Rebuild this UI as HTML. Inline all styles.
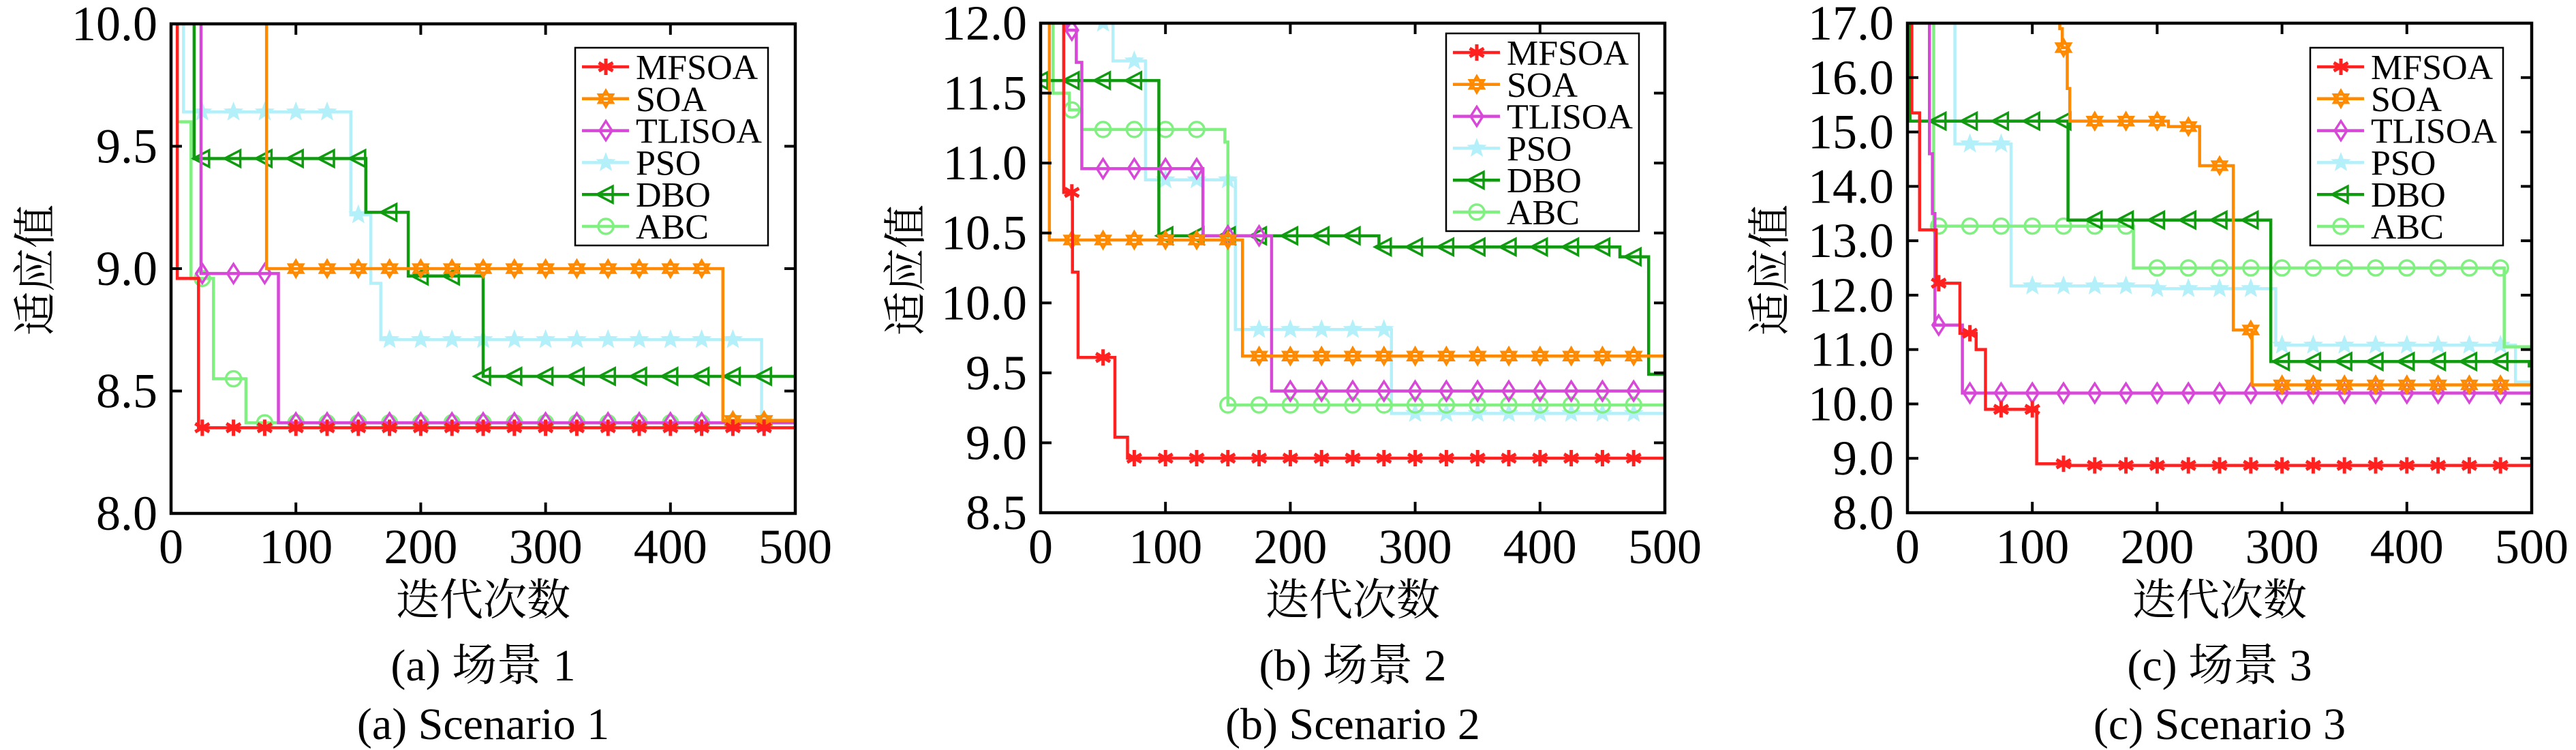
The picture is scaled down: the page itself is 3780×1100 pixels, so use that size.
<!DOCTYPE html>
<html><head><meta charset="utf-8"><style>
html,body{margin:0;padding:0;background:#fff;}
svg{display:block;}
text{font-family:"Liberation Serif","Noto Serif CJK SC",serif;fill:#000;}
.cjk{font-family:"Liberation Serif","Noto Serif CJK SC","Noto Sans CJK SC",serif;}
</style></head><body>
<svg id="s" width="3780" height="1100" viewBox="0 0 3780 1100" xmlns="http://www.w3.org/2000/svg">
<rect width="3780" height="1100" fill="#fff"/>
<g id="g"></g>
<g font-family="Liberation Serif, Noto Serif CJK SC, serif">
<text class="cjk" x="709" y="902" font-size="64" text-anchor="middle">迭代次数</text>
<text class="cjk" x="709" y="998" font-size="66" text-anchor="middle">(a) 场景 1</text>
<text x="709" y="1084" font-size="66" text-anchor="middle">(a) Scenario 1</text>
<text class="cjk" transform="translate(74,396) rotate(-90)" font-size="64" text-anchor="middle">适应值</text>

<text class="cjk" x="1985" y="902" font-size="64" text-anchor="middle">迭代次数</text>
<text class="cjk" x="1985" y="998" font-size="66" text-anchor="middle">(b) 场景 2</text>
<text x="1985" y="1084" font-size="66" text-anchor="middle">(b) Scenario 2</text>
<text class="cjk" transform="translate(1351,396) rotate(-90)" font-size="64" text-anchor="middle">适应值</text>

<text class="cjk" x="3257" y="902" font-size="64" text-anchor="middle">迭代次数</text>
<text class="cjk" x="3257" y="998" font-size="66" text-anchor="middle">(c) 场景 3</text>
<text x="3257" y="1084" font-size="66" text-anchor="middle">(c) Scenario 3</text>
<text class="cjk" transform="translate(2619,396) rotate(-90)" font-size="64" text-anchor="middle">适应值</text>
</g>
<g id="ticks" font-size="72" font-family="Liberation Serif, serif"></g>
<g id="leg" font-size="52" font-family="Liberation Serif, serif"></g>
</svg>
<script>
const NS="http://www.w3.org/2000/svg";
const g=document.getElementById('g'),tg=document.getElementById('ticks'),lg=document.getElementById('leg');
function el(t,a,p){const e=document.createElementNS(NS,t);for(const k in a)e.setAttribute(k,a[k]);(p||g).appendChild(e);return e;}
const COL={MF:'#ff2020',SOA:'#ff8a00',TL:'#d848d8',PSO:'#b4f0fa',DBO:'#109a10',ABC:'#80f080'};
const NAMES={MF:'MFSOA',SOA:'SOA',TL:'TLISOA',PSO:'PSO',DBO:'DBO',ABC:'ABC'};
function marker(type,cx,cy,parent){
  const c=COL[type],r=12,sw=3.5;
  if(type==='MF'){for(let i=0;i<3;i++){const a=i*Math.PI/3+Math.PI/2;el('line',{x1:cx-r*Math.cos(a),y1:cy-r*Math.sin(a),x2:cx+r*Math.cos(a),y2:cy+r*Math.sin(a),stroke:c,'stroke-width':5},parent);}}
  else if(type==='SOA'){let p1='',p2='';for(let i=0;i<3;i++){const a=-Math.PI/2+i*2*Math.PI/3,b=Math.PI/2+i*2*Math.PI/3;p1+=(cx+r*Math.cos(a))+','+(cy+r*Math.sin(a))+' ';p2+=(cx+r*Math.cos(b))+','+(cy+r*Math.sin(b))+' ';}
    el('polygon',{points:p1,fill:'none',stroke:c,'stroke-width':sw},parent);el('polygon',{points:p2,fill:'none',stroke:c,'stroke-width':sw},parent);}
  else if(type==='TL'){el('polygon',{points:`${cx},${cy-14} ${cx+9},${cy} ${cx},${cy+14} ${cx-9},${cy}`,fill:'none',stroke:c,'stroke-width':sw},parent);}
  else if(type==='PSO'){let p='';for(let i=0;i<10;i++){const a=-Math.PI/2+i*Math.PI/5,rr=i%2?6:14;p+=(cx+rr*Math.cos(a))+','+(cy+rr*Math.sin(a))+' ';}el('polygon',{points:p,fill:c,stroke:c,'stroke-width':1},parent);}
  else if(type==='DBO'){el('polygon',{points:`${cx-13},${cy} ${cx+10},${cy-12} ${cx+10},${cy+12}`,fill:'none',stroke:c,'stroke-width':sw},parent);}
  else if(type==='ABC'){el('circle',{cx:cx,cy:cy,r:11,fill:'none',stroke:c,'stroke-width':sw},parent);}
}
const panels=[
 {L:251,R:1167,T:35,B:753,y0:8,y1:10,yt:[8,8.5,9,9.5,10],leg:[844,70,1127,360],
  s:{PSO:[[0,20],[10,9.64],[144,9.22],[160,8.94],[168,8.71],[473,8.38]],
     ABC:[[0,20],[5,9.6],[16,8.96],[34,8.55],[60,8.37]],
     DBO:[[0,20],[18.5,9.45],[156,9.23],[190,8.97],[250,8.56]],
     TL:[[0,20],[24,8.98],[86,8.37]],
     SOA:[[0,20],[76.5,9.0],[442,8.38]],
     MF:[[0,20],[5,8.96],[22,8.35]]}},
 {L:1527,R:2443,T:34,B:752,y0:8.5,y1:12,yt:[8.5,9,9.5,10,10.5,11,11.5,12],leg:[2122,49,2405,339],
  s:{PSO:[[0,20],[45,12.0],[58,11.73],[84,10.88],[156,9.81],[281,9.21]],
     ABC:[[0,20],[10,11.5],[23,11.38],[33,11.24],[147.6,11.15],[150,9.27]],
     DBO:[[0,11.59],[94.7,10.48],[271,10.40],[464,10.33],[487,9.49]],
     TL:[[0,20],[21,11.95],[28.6,11.72],[33,10.96],[130,10.48],[185,9.37]],
     SOA:[[0,20],[7,10.45],[161.7,9.62]],
     MF:[[0,20],[18.5,10.79],[25.5,10.22],[30,9.61],[59.5,9.04],[69.6,8.89]]}},
 {L:2799,R:3715,T:34,B:752,y0:8,y1:17,yt:[8,9,10,11,12,13,14,15,16,17],leg:[3390,70,3673,360],
  s:{PSO:[[0,20],[38,14.78],[83,12.17],[200,12.12],[295,11.08],[487,10.4]],
     ABC:[[0,20],[21,13.27],[181,12.5],[478,11.05]],
     DBO:[[0,20],[2,15.2],[128.6,13.38],[291,10.78],[498,10.7]],
     TL:[[0,20],[17.6,14.6],[20,13.5],[22,11.45],[44,10.2]],
     SOA:[[0,20],[122,16.9],[124,16.55],[128,15.8],[130,15.2],[209,15.1],[234,14.38],[261,11.36],[276,10.35]],
     MF:[[0,20],[3.5,15.35],[9.7,13.2],[23,12.22],[42,11.3],[55,11.0],[62.5,9.9],[103.5,8.9],[130,8.87]]}}
];
panels.forEach((P,pi)=>{
  const X=x=>P.L+(P.R-P.L)*x/500, Y=y=>P.B-(P.B-P.T)*(y-P.y0)/(P.y1-P.y0);
  const id='c'+pi;
  const cp=el('clipPath',{id:id});el('rect',{x:P.L,y:P.T,width:P.R-P.L,height:P.B-P.T},cp);
  const sg=el('g',{'clip-path':`url(#${id})`});
  for(const k of Object.keys(P.s)){
    const d=P.s[k];let p=`M${X(d[0][0])},${Y(d[0][1])}`;
    for(let i=1;i<d.length;i++)p+=` H${X(d[i][0])} V${Y(d[i][1])}`;
    p+=` H${X(500)}`;
    el('path',{d:p,fill:'none',stroke:COL[k],'stroke-width':4.5},sg);
    for(let xm=0;xm<500;xm+=25){let v=d[0][1];for(const q of d)if(q[0]<=xm)v=q[1];
      if(v<=P.y1+0.01&&v>=P.y0)marker(k,X(xm),Y(v),sg);}
  }
  el('rect',{x:P.L,y:P.T,width:P.R-P.L,height:P.B-P.T,fill:'none',stroke:'#000','stroke-width':4.5});
  for(let xv=0;xv<=500;xv+=100){const x=X(xv);
    el('line',{x1:x,y1:P.B,x2:x,y2:P.B-16,stroke:'#000','stroke-width':4});
    el('line',{x1:x,y1:P.T,x2:x,y2:P.T+16,stroke:'#000','stroke-width':4});
    const t=el('text',{x:x,y:826,'text-anchor':'middle'},tg);t.textContent=xv;}
  P.yt.forEach(v=>{const y=Y(v);
    el('line',{x1:P.L,y1:y,x2:P.L+16,y2:y,stroke:'#000','stroke-width':4});
    el('line',{x1:P.R,y1:y,x2:P.R-16,y2:y,stroke:'#000','stroke-width':4});
    const t=el('text',{x:P.L-20,y:y+24,'text-anchor':'end'},tg);t.textContent=v.toFixed(1);});
  const [lx0,ly0,lx1,ly1]=P.leg;
  el('rect',{x:lx0,y:ly0,width:lx1-lx0,height:ly1-ly0,fill:'#fff',stroke:'#000','stroke-width':2.5},lg);
  ['MF','SOA','TL','PSO','DBO','ABC'].forEach((k,i)=>{const y=ly0+28+i*46.8;
    el('line',{x1:lx0+10,y1:y,x2:lx0+79,y2:y,stroke:COL[k],'stroke-width':4.5},lg);
    marker(k,lx0+45,y,lg);
    const t=el('text',{x:lx0+89,y:y+18},lg);
    if(k==='TL'){t.setAttribute('textLength','185');t.setAttribute('lengthAdjust','spacingAndGlyphs');}
    t.textContent=NAMES[k];});
});
</script>
</body></html>
